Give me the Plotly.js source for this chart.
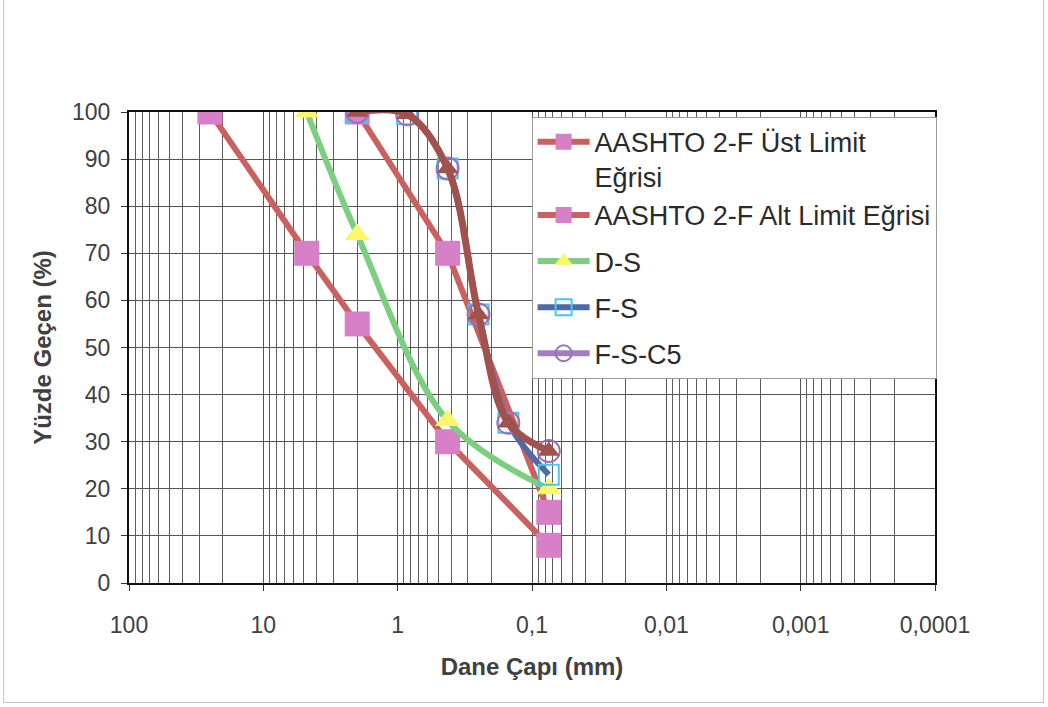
<!DOCTYPE html>
<html>
<head>
<meta charset="utf-8">
<script src="https://cdn.plot.ly/plotly-3.0.1.min.js"></script>
<style>
  html, body { margin: 0; padding: 0; background: #ffffff; }
  #wrap { position: relative; width: 1048px; height: 707px; overflow: hidden; }
  #chart { width: 1048px; height: 707px; }
  #frame { position: absolute; left: 3px; top: -2px; width: 1041px; height: 705px;
           border: 1px solid #c4c4c4; box-sizing: border-box; pointer-events: none; }
</style>
</head>
<body>
<div id="wrap">
  <div id="chart"></div>
  <div id="frame"></div>
</div>
<script>
// Elek açıklıkları (mm) ve geçen yüzdeler
const sieveUpper = [2.0, 0.425, 0.075];
const passUpper  = [100, 70, 15];

const sieveLower = [25, 4.75, 2.0, 0.425, 0.075];
const passLower  = [100, 70, 55, 30, 8];

const sieveDS = [4.75, 2.0, 0.425, 0.075];
const passDS  = [100, 74, 34.5, 20];

const sieveFS = [2.0, 0.85, 0.425, 0.25, 0.15, 0.075];
const passFS  = [100, 99.5, 88, 57, 34, 23];
const passFSC5 = [100, 99.5, 88, 57, 34, 28];

// Eksen etiketleri
const xTickVals = [100, 10, 1, 0.1, 0.01, 0.001, 0.0001];
const xTickText = ['100', '10', '1', '0,1', '0,01', '0,001', '0,0001'];

// Ara ızgara çizgileri: her onluk dilimde 2..9
const minorVals = [];
for (let e = -4; e < 2; e++) {
  for (let m = 2; m <= 9; m++) minorVals.push(m * Math.pow(10, e));
}

const FONT = 'Liberation Sans, Arial, sans-serif';
const limitLine = '#c8615f';
const limitMarker = '#d77fc7';

const traces = [
  {
    name: 'AASHTO 2-F Üst Limit<br>Eğrisi', legendgroup: 'g1',
    x: sieveUpper, y: passUpper, mode: 'lines+markers',
    line: { color: limitLine, width: 6 },
    marker: { symbol: 'square', size: 25, color: limitMarker }
  },
  {
    name: 'AASHTO 2-F Alt Limit Eğrisi', legendgroup: 'g1',
    x: sieveLower, y: passLower, mode: 'lines+markers',
    line: { color: limitLine, width: 6 },
    marker: { symbol: 'square', size: 25, color: limitMarker }
  },
  {
    name: 'D-S', legendgroup: 'g3',
    x: sieveDS, y: passDS, mode: 'lines+markers',
    line: { color: '#7dcf80', width: 6, shape: 'spline', smoothing: 1 },
    marker: { symbol: 'triangle-up', size: 22, color: '#fbf66a' }
  },
  {
    name: 'F-S', legendgroup: 'g4',
    x: sieveFS, y: passFS, mode: 'lines+markers',
    line: { color: '#4f6aa6', width: 6, shape: 'spline', smoothing: 1 },
    marker: { symbol: 'square-open', size: 20, color: '#49c6f0', line: { width: 2 } }
  },
  {
    name: 'F-S-C5', legendgroup: 'g5',
    x: sieveFS, y: passFSC5, mode: 'lines+markers',
    line: { color: '#a47cc4', width: 6, shape: 'spline', smoothing: 1 },
    marker: { symbol: 'circle-open', size: 22, color: '#9c70b8', line: { width: 2 } }
  },
  {
    name: 'F-S-C5 eğri', showlegend: false,
    x: sieveFS, y: passFSC5, mode: 'lines+markers',
    line: { color: '#a2524e', width: 7, shape: 'spline', smoothing: 1 },
    marker: { symbol: 'triangle-up', size: 19, color: '#a2524e' }
  }
];

const layout = {
  width: 1048, height: 707,
  paper_bgcolor: '#ffffff', plot_bgcolor: '#ffffff',
  margin: { l: 129, r: 113, t: 112, b: 124 },
  font: { family: FONT, color: '#404040' },
  showlegend: true,
  legend: {
    x: 1.002, xanchor: 'right', y: 0.99, yanchor: 'top',
    bgcolor: '#ffffff', bordercolor: '#9a9a9a', borderwidth: 1,
    font: { family: FONT, size: 27, color: '#2a2a2a' },
    tracegroupgap: 8, itemsizing: 'trace', itemwidth: 52, valign: 'top'
  },
  xaxis: {
    type: 'log', range: [2, -4],
    tickmode: 'array', tickvals: xTickVals, ticktext: xTickText,
    tickfont: { family: FONT, size: 23, color: '#404040' },
    ticks: 'outside', ticklen: 6, tickcolor: '#333', ticklabelstandoff: 14,
    showgrid: true, gridcolor: '#555555', gridwidth: 1,
    minor: { tickmode: 'array', tickvals: minorVals, showgrid: true,
             gridcolor: '#5e5e5e', gridwidth: 1, ticks: '' },
    showline: true, linecolor: '#111111', linewidth: 2, mirror: true,
    zeroline: false,
    title: { text: '<b>Dane Çapı (mm)</b>', font: { family: FONT, size: 24, color: '#404040' }, standoff: 22 }
  },
  yaxis: {
    range: [0, 100], dtick: 10, tick0: 0,
    tickfont: { family: FONT, size: 23, color: '#404040' },
    ticks: 'outside', ticklen: 6, tickcolor: '#333', ticklabelstandoff: 6,
    showgrid: true, gridcolor: '#555555', gridwidth: 1,
    showline: true, linecolor: '#111111', linewidth: 2, mirror: true,
    zeroline: false,
    title: { text: '<b>Yüzde Geçen (%)</b>', font: { family: FONT, size: 24, color: '#404040' }, standoff: 14 }
  }
};

Plotly.newPlot('chart', traces, layout, { staticPlot: true, displayModeBar: false });
</script>
</body>
</html>
